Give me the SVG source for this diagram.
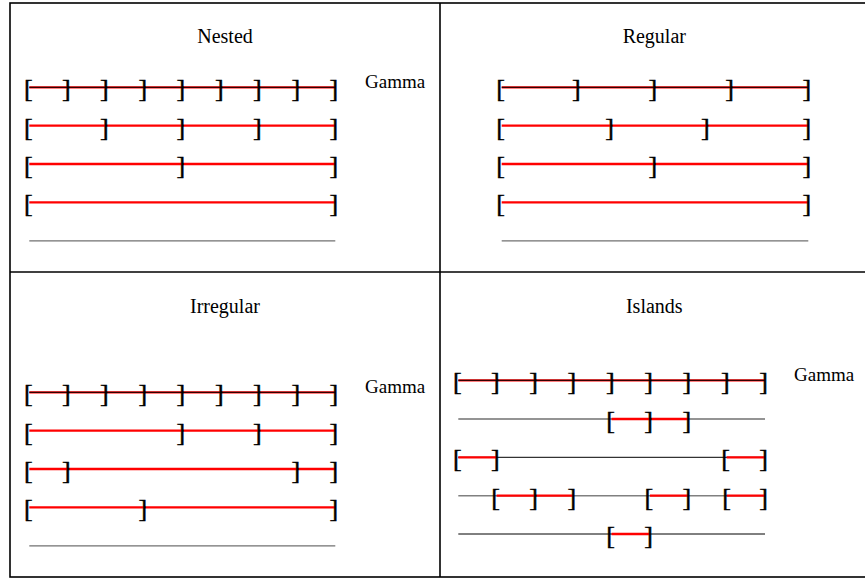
<svg xmlns="http://www.w3.org/2000/svg" width="865" height="578" viewBox="0 0 865 578">
<style>
.fr{fill:none;stroke:#000;stroke-width:1.6}
.r{stroke:#ff0000;stroke-width:2.3;fill:none}
.k{stroke:#000;stroke-width:1;fill:none}
.g{stroke:#707070;stroke-width:1.3;fill:none}
.g2{stroke:#808080;stroke-width:1.6;fill:none}
.t{font-family:"Liberation Serif","Times New Roman",serif;font-size:20px;fill:#000}
.gm{font-family:"Liberation Serif","Times New Roman",serif;font-size:19px;fill:#000}
.b{font-family:"Liberation Serif","Times New Roman",serif;font-size:26px;fill:#000;stroke:#000;stroke-width:0.5}
</style>
<rect x="0" y="0" width="865" height="578" fill="#fff"/>
<g id="frame">
<rect class="fr" x="10" y="3" width="857" height="574"/>
<line class="fr" x1="440" y1="3" x2="440" y2="577"/>
<line class="fr" x1="10" y1="272" x2="867" y2="272"/>
</g>

<g id="nested">
<text class="t" x="225" y="43" text-anchor="middle">Nested</text>
<text class="gm" x="365" y="87.5">Gamma</text>
<g id="nested-lines">
<line class="r" x1="29.3" y1="87.3" x2="335.3" y2="87.3"/>
<line class="k" x1="29.3" y1="87.3" x2="335.3" y2="87.3"/>
<line class="r" x1="29.3" y1="125.7" x2="335.3" y2="125.7"/>
<line class="r" x1="29.3" y1="164" x2="335.3" y2="164"/>
<line class="r" x1="29.3" y1="202.3" x2="335.3" y2="202.3"/>
<line class="g" x1="29.3" y1="240.8" x2="335.3" y2="240.8"/>
</g>
<g id="nested-brackets" transform="translate(-0.4,1.3)">
<text class="b" x="24.3" y="96">[</text>
<text class="b" x="62.3" y="96">]</text><text class="b" x="100.5" y="96">]</text><text class="b" x="138.8" y="96">]</text><text class="b" x="177" y="96">]</text><text class="b" x="215.3" y="96">]</text><text class="b" x="253.5" y="96">]</text><text class="b" x="291.8" y="96">]</text><text class="b" x="330" y="96">]</text>
<text class="b" x="24.3" y="134.4">[</text>
<text class="b" x="100.5" y="134.4">]</text><text class="b" x="177" y="134.4">]</text><text class="b" x="253.5" y="134.4">]</text><text class="b" x="330" y="134.4">]</text>
<text class="b" x="24.3" y="172.7">[</text>
<text class="b" x="177" y="172.7">]</text><text class="b" x="330" y="172.7">]</text>
<text class="b" x="24.3" y="211">[</text>
<text class="b" x="330" y="211">]</text>
</g>
</g>

<g id="regular">
<text class="t" x="654.3" y="43" text-anchor="middle">Regular</text>
<g id="regular-lines">
<line class="r" x1="501.7" y1="87.3" x2="808.3" y2="87.3"/>
<line class="k" x1="501.7" y1="87.3" x2="808.3" y2="87.3"/>
<line class="r" x1="501.7" y1="125.7" x2="808.3" y2="125.7"/>
<line class="r" x1="501.7" y1="164" x2="808.3" y2="164"/>
<line class="r" x1="501.7" y1="202.3" x2="808.3" y2="202.3"/>
<line class="g" x1="501.7" y1="240.8" x2="808.3" y2="240.8"/>
</g>
<g id="regular-brackets" transform="translate(-0.4,1.3)">
<text class="b" x="496.7" y="96">[</text>
<text class="b" x="572.4" y="96">]</text><text class="b" x="649" y="96">]</text><text class="b" x="725.7" y="96">]</text><text class="b" x="803" y="96">]</text>
<text class="b" x="496.7" y="134.4">[</text>
<text class="b" x="605.7" y="134.4">]</text><text class="b" x="701.4" y="134.4">]</text><text class="b" x="803" y="134.4">]</text>
<text class="b" x="496.7" y="172.7">[</text>
<text class="b" x="649" y="172.7">]</text><text class="b" x="803" y="172.7">]</text>
<text class="b" x="496.7" y="211">[</text>
<text class="b" x="803" y="211">]</text>
</g>
</g>

<g id="irregular">
<text class="t" x="225" y="312.7" text-anchor="middle">Irregular</text>
<text class="gm" x="365" y="392.7">Gamma</text>
<g id="irregular-lines">
<line class="r" x1="29.3" y1="392.3" x2="335.3" y2="392.3"/>
<line class="k" x1="29.3" y1="392.3" x2="335.3" y2="392.3"/>
<line class="r" x1="29.3" y1="430.7" x2="335.3" y2="430.7"/>
<line class="r" x1="29.3" y1="469" x2="335.3" y2="469"/>
<line class="r" x1="29.3" y1="507.3" x2="335.3" y2="507.3"/>
<line class="g" x1="29.3" y1="545.8" x2="335.3" y2="545.8"/>
</g>
<g id="irregular-brackets" transform="translate(-0.4,1.3)">
<text class="b" x="24.3" y="401">[</text>
<text class="b" x="62.3" y="401">]</text><text class="b" x="100.5" y="401">]</text><text class="b" x="138.8" y="401">]</text><text class="b" x="177" y="401">]</text><text class="b" x="215.3" y="401">]</text><text class="b" x="253.5" y="401">]</text><text class="b" x="291.8" y="401">]</text><text class="b" x="330" y="401">]</text>
<text class="b" x="24.3" y="439.4">[</text>
<text class="b" x="177" y="439.4">]</text><text class="b" x="253.5" y="439.4">]</text><text class="b" x="330" y="439.4">]</text>
<text class="b" x="24.3" y="477.7">[</text>
<text class="b" x="62.3" y="477.7">]</text><text class="b" x="291.8" y="477.7">]</text><text class="b" x="330" y="477.7">]</text>
<text class="b" x="24.3" y="516">[</text>
<text class="b" x="138.8" y="516">]</text><text class="b" x="330" y="516">]</text>
</g>
</g>

<g id="islands">
<text class="t" x="654.3" y="312.7" text-anchor="middle">Islands</text>
<text class="gm" x="794" y="381">Gamma</text>
<g id="islands-lines">
<line class="r" x1="458.3" y1="380.3" x2="765" y2="380.3"/>
<line class="k" x1="458.3" y1="380.3" x2="765" y2="380.3"/>
<line class="g" x1="458.3" y1="419" x2="765" y2="419"/>
<line class="r" x1="611.6" y1="419" x2="688.3" y2="419"/>
<line class="k" x1="458.3" y1="457.3" x2="765" y2="457.3"/>
<line class="r" x1="458.3" y1="457.3" x2="496.6" y2="457.3"/>
<line class="r" x1="726.6" y1="457.3" x2="765" y2="457.3"/>
<line class="g2" x1="458.3" y1="495.7" x2="765" y2="495.7"/>
<line class="r" x1="496.6" y1="495.7" x2="573.3" y2="495.7"/>
<line class="r" x1="650" y1="495.7" x2="688.3" y2="495.7"/>
<line class="r" x1="726.6" y1="495.7" x2="765" y2="495.7"/>
<line class="k" x1="458.3" y1="534" x2="765" y2="534"/>
<line class="r" x1="611.6" y1="534" x2="650" y2="534"/>
</g>
<g id="islands-brackets" transform="translate(-0.4,1.3)">
<text class="b" x="453.3" y="389">[</text>
<text class="b" x="491.3" y="389">]</text><text class="b" x="529.7" y="389">]</text><text class="b" x="568" y="389">]</text><text class="b" x="606.3" y="389">]</text><text class="b" x="644.7" y="389">]</text><text class="b" x="683" y="389">]</text><text class="b" x="721.3" y="389">]</text><text class="b" x="759.7" y="389">]</text>
<text class="b" x="606.6" y="427.7">[</text>
<text class="b" x="644.7" y="427.7">]</text><text class="b" x="683" y="427.7">]</text>
<text class="b" x="453.3" y="466">[</text>
<text class="b" x="491.3" y="466">]</text>
<text class="b" x="721.6" y="466">[</text>
<text class="b" x="759.7" y="466">]</text>
<text class="b" x="491.6" y="504.4">[</text>
<text class="b" x="529.7" y="504.4">]</text><text class="b" x="568" y="504.4">]</text>
<text class="b" x="645" y="504.4">[</text>
<text class="b" x="683" y="504.4">]</text>
<text class="b" x="722.6" y="504.4">[</text>
<text class="b" x="759.7" y="504.4">]</text>
<text class="b" x="606.6" y="542.7">[</text>
<text class="b" x="644.7" y="542.7">]</text>
</g>
</g>
</svg>
